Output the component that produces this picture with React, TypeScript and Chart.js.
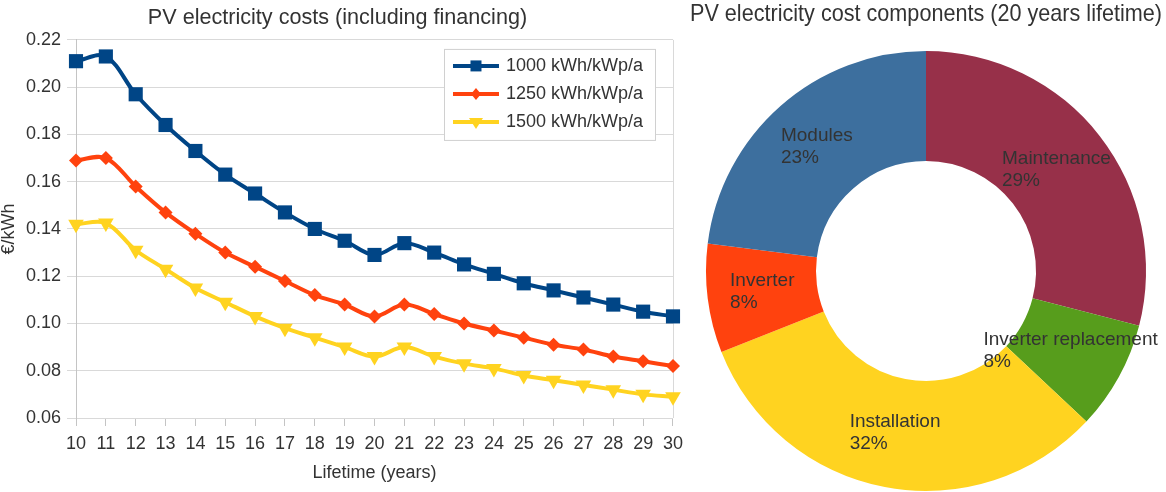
import React, { useEffect, useRef } from "react";
import { Chart, registerables } from "chart.js";

Chart.register(...registerables);

// lifetime in years (x axis)
const lifetimeYears = [
  "10", "11", "12", "13", "14", "15", "16", "17", "18", "19", "20",
  "21", "22", "23", "24", "25", "26", "27", "28", "29", "30",
];

// €/kWh for each irradiation level
const cost1000 = [
  0.211, 0.213, 0.197, 0.184, 0.173, 0.163, 0.155, 0.147, 0.14, 0.135, 0.129,
  0.134, 0.13, 0.125, 0.121, 0.117, 0.114, 0.111, 0.108, 0.105, 0.103,
];
const cost1250 = [
  0.169, 0.17, 0.158, 0.147, 0.138, 0.13, 0.124, 0.118, 0.112, 0.108, 0.103,
  0.108, 0.104, 0.1, 0.097, 0.094, 0.091, 0.089, 0.086, 0.084, 0.082,
];
const cost1500 = [
  0.142, 0.1425, 0.131, 0.123, 0.115, 0.109, 0.103, 0.098, 0.094, 0.09, 0.086,
  0.09, 0.086, 0.083, 0.081, 0.078, 0.076, 0.074, 0.072, 0.07, 0.069,
];
const seriesNames = ["1000 kWh/kWp/a", "1250 kWh/kWp/a", "1500 kWh/kWp/a"];
const yTicks = [0.06, 0.08, 0.1, 0.12, 0.14, 0.16, 0.18, 0.2, 0.22];

// cost components, 20 years lifetime (clockwise from top)
const componentNames = [
  "Maintenance",
  "Inverter replacement",
  "Installation",
  "Inverter",
  "Modules",
];
const componentShares = [29, 8, 32, 8, 23];

const FONT = "'Liberation Sans', Arial, sans-serif";
const TEXT = "#333333";
const GRID = "#d9d9d9";
const AXIS = "#c4c4c4";

// legend box drawn inside the plot, like the original
const boxLegend = {
  id: "boxLegend",
  afterDraw(chart: any) {
    const { ctx, chartArea } = chart;
    const w = 211;
    const h = 91;
    const left = chartArea.right - 18 - w;
    const top = chartArea.top + 9;
    ctx.save();
    ctx.fillStyle = "#ffffff";
    ctx.fillRect(left, top, w, h);
    ctx.strokeStyle = "#d0d0d0";
    ctx.lineWidth = 1;
    ctx.strokeRect(left + 0.5, top + 0.5, w, h);
    chart.data.datasets.forEach((ds: any, i: number) => {
      const y = top + 17 + i * 28;
      const mx = left + 32;
      ctx.strokeStyle = ds.borderColor;
      ctx.fillStyle = ds.borderColor;
      ctx.lineWidth = 4;
      ctx.beginPath();
      ctx.moveTo(left + 9, y);
      ctx.lineTo(left + 55, y);
      ctx.stroke();
      ctx.beginPath();
      if (ds.pointStyle === "rect") {
        ctx.rect(mx - 5.5, y - 5.5, 11, 11);
      } else if (ds.pointStyle === "rectRot") {
        ctx.moveTo(mx, y - 6);
        ctx.lineTo(mx + 5, y);
        ctx.lineTo(mx, y + 6);
        ctx.lineTo(mx - 5, y);
        ctx.closePath();
      } else {
        ctx.moveTo(mx - 7, y - 4);
        ctx.lineTo(mx + 7, y - 4);
        ctx.lineTo(mx, y + 7);
        ctx.closePath();
      }
      ctx.fill();
      ctx.fillStyle = TEXT;
      ctx.font = `18px ${FONT}`;
      ctx.textBaseline = "middle";
      ctx.textAlign = "left";
      ctx.fillText(ds.label, left + 62, y);
    });
    ctx.restore();
  },
};

// thin frame line on the right of the plot
const rightFrame = {
  id: "rightFrame",
  beforeDatasetsDraw(chart: any) {
    const { ctx, chartArea } = chart;
    ctx.save();
    ctx.strokeStyle = GRID;
    ctx.lineWidth = 1;
    ctx.beginPath();
    ctx.moveTo(Math.round(chartArea.right) + 0.5, chartArea.top);
    ctx.lineTo(Math.round(chartArea.right) + 0.5, chartArea.bottom);
    ctx.stroke();
    ctx.restore();
  },
};

// name + percent written on each ring segment
const sliceLabels = {
  id: "sliceLabels",
  afterDatasetsDraw(chart: any) {
    const { ctx } = chart;
    const meta = chart.getDatasetMeta(0);
    ctx.save();
    ctx.font = `19px ${FONT}`;
    ctx.fillStyle = TEXT;
    ctx.textBaseline = "middle";
    ctx.textAlign = "left";
    meta.data.forEach((arc: any, i: number) => {
      const { x, y } = arc.tooltipPosition();
      const l1 = chart.data.labels[i];
      const l2 = chart.data.datasets[0].data[i] + "%";
      const w = Math.max(ctx.measureText(l1).width, ctx.measureText(l2).width);
      ctx.fillText(l1, x - w / 2, y - 11);
      ctx.fillText(l2, x - w / 2, y + 11);
    });
    ctx.restore();
  },
};

const CostLines: React.FC = () => {
  const ref = useRef<HTMLCanvasElement>(null);
  useEffect(() => {
    if (!ref.current) return;
    const chart = new Chart(ref.current, {
      type: "line",
      data: {
        labels: lifetimeYears,
        datasets: [
          {
            label: seriesNames[0],
            data: cost1000,
            borderColor: "#004586",
            backgroundColor: "#004586",
            pointStyle: "rect",
            pointRadius: 10,
          },
          {
            label: seriesNames[1],
            data: cost1250,
            borderColor: "#ff420e",
            backgroundColor: "#ff420e",
            pointStyle: "rectRot",
            pointRadius: 7,
          },
          {
            label: seriesNames[2],
            data: cost1500,
            borderColor: "#ffd320",
            backgroundColor: "#ffd320",
            pointStyle: "triangle",
            pointRotation: 180,
            pointRadius: 9,
          },
        ].map((d) => ({
          ...d,
          borderWidth: 4,
          tension: 0.35,
          pointBorderWidth: 0,
          clip: false as const,
        })) as any,
      },
      options: {
        responsive: false,
        animation: false,
        layout: { padding: { top: 0, right: 15, bottom: 0, left: 0 } },
        plugins: {
          legend: { display: false },
          tooltip: { enabled: false },
          title: {
            display: true,
            text: "PV electricity costs (including financing)",
            color: TEXT,
            font: { family: FONT, size: 21.6, weight: "normal" },
            padding: { top: 5, bottom: 9 },
          },
        },
        scales: {
          x: {
            offset: false,
            afterFit: (s: any) => {
              s.height = 74;
            },
            grid: {
              drawOnChartArea: false,
              drawTicks: true,
              tickLength: 8,
              color: AXIS,
            },
            border: { display: true, color: GRID },
            ticks: {
              color: TEXT,
              font: { family: FONT, size: 18 },
              maxRotation: 0,
              autoSkip: false,
              padding: 7,
            },
            title: {
              display: true,
              text: "Lifetime (years)",
              color: TEXT,
              font: { family: FONT, size: 18 },
              padding: { top: 0, bottom: 8 },
            },
          },
          y: {
            min: 0.06,
            max: 0.22,
            afterFit: (s: any) => {
              s.width = 76;
            },
            afterBuildTicks: (s: any) => {
              s.ticks = yTicks.map((v) => ({ value: v }));
            },
            grid: { color: GRID, tickLength: 9 },
            border: { display: true, color: AXIS },
            ticks: {
              color: TEXT,
              font: { family: FONT, size: 18 },
              padding: 6,
              callback: (v: any) => Number(v).toFixed(2),
            },
            title: {
              display: true,
              text: "€/kWh",
              color: TEXT,
              font: { family: FONT, size: 18, lineHeight: 1 },
              padding: 0,
            },
          },
        },
      },
      plugins: [rightFrame, boxLegend],
    });
    return () => chart.destroy();
  }, []);
  return <canvas ref={ref} width={690} height={492} />;
};

const CostDonut: React.FC = () => {
  const ref = useRef<HTMLCanvasElement>(null);
  useEffect(() => {
    if (!ref.current) return;
    const chart = new Chart(ref.current, {
      type: "doughnut",
      data: {
        labels: componentNames,
        datasets: [
          {
            data: componentShares,
            backgroundColor: ["#973049", "#579d1c", "#ffd320", "#ff420e", "#3d6f9e"],
            borderWidth: 0,
          },
        ],
      },
      options: {
        responsive: false,
        animation: false,
        cutout: "50%",
        layout: { padding: { top: 0, right: 4, bottom: 1, left: 0 } },
        plugins: {
          legend: { display: false },
          tooltip: { enabled: false },
          title: {
            display: true,
            text: "PV electricity cost components (20 years lifetime)",
            color: TEXT,
            font: { family: FONT, size: 23.8, weight: "normal" },
            padding: { top: 0, bottom: 22.4 },
          },
        },
      },
      plugins: [sliceLabels],
    });
    return () => chart.destroy();
  }, []);
  return <canvas ref={ref} width={476} height={492} />;
};

export default function App() {
  useEffect(() => {
    document.body.style.margin = "0";
  }, []);
  return (
    <div style={{ position: "relative", width: 1166, height: 492, background: "#fff" }}>
      <div style={{ position: "absolute", left: 0, top: 0 }}>
        <CostLines />
      </div>
      <div style={{ position: "absolute", left: 690, top: 0 }}>
        <CostDonut />
      </div>
    </div>
  );
}
